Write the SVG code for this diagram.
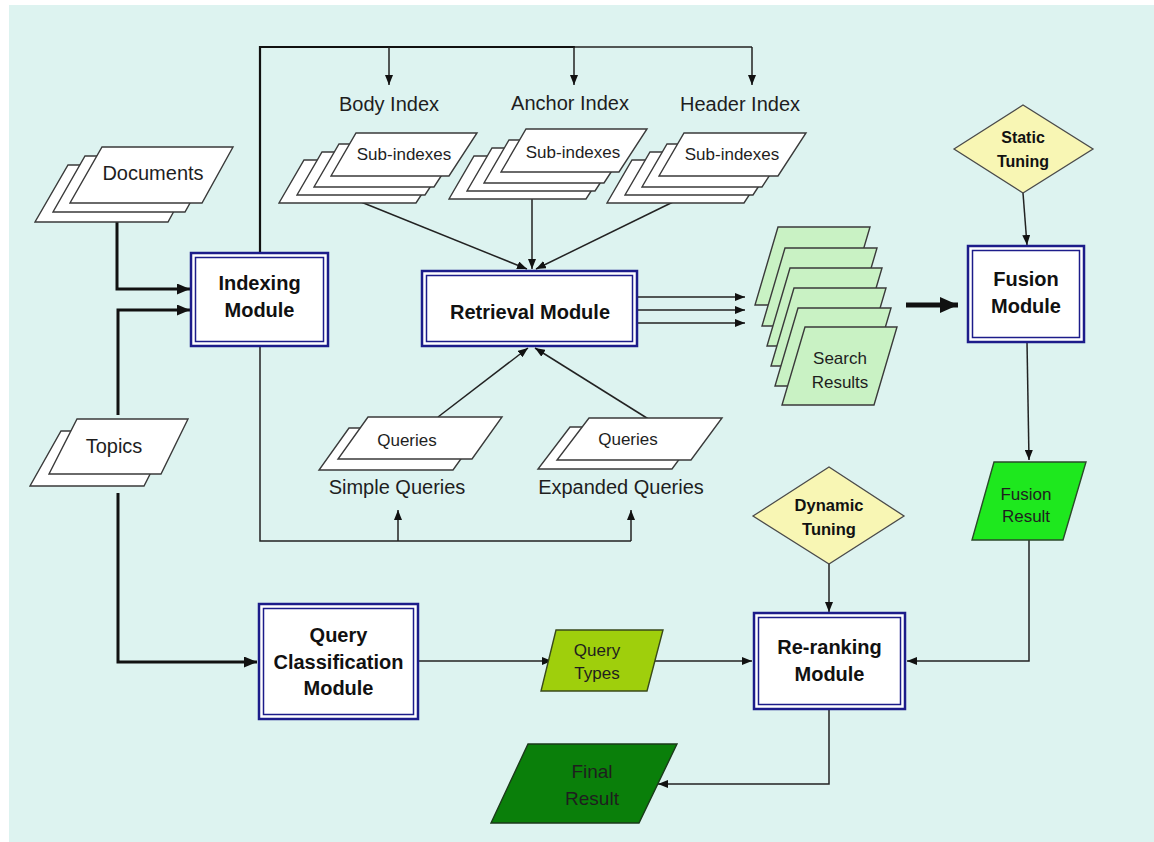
<svg xmlns="http://www.w3.org/2000/svg" width="1154" height="842" viewBox="0 0 1154 842">
<defs>
<style>
.bg{fill:#ddf3f0}
.doc{fill:#ffffff;stroke:#3a3a3a;stroke-width:1.4}
.res{fill:#c9f2c4;stroke:#3a3a3a;stroke-width:1.4}
.dia{fill:#f8f6b4;stroke:#4a4a4a;stroke-width:1.3}
.boxo{fill:#ffffff;stroke:#1c1c8a;stroke-width:2.5}
.boxi{fill:none;stroke:#1c1c8a;stroke-width:1.5}
.ln{fill:none;stroke:#222;stroke-width:1.5}
.lt{fill:none;stroke:#111;stroke-width:3}
.lb{fill:none;stroke:#111;stroke-width:5}
.t{font-family:"Liberation Sans",Arial,sans-serif;fill:#1e1e1e;text-anchor:middle}
.b{font-family:"Liberation Sans",Arial,sans-serif;font-weight:bold;fill:#111;text-anchor:middle}
</style>
<marker id="a" markerUnits="userSpaceOnUse" markerWidth="10" markerHeight="8" refX="10" refY="4" orient="auto"><path d="M0,0 L10,4 L0,8 z" fill="#111"/></marker>
<marker id="at" markerUnits="userSpaceOnUse" markerWidth="13" markerHeight="11" refX="13" refY="5.5" orient="auto"><path d="M0,0 L13,5.5 L0,11 z" fill="#111"/></marker>
<marker id="ab" markerUnits="userSpaceOnUse" markerWidth="18" markerHeight="16" refX="18" refY="8" orient="auto"><path d="M0,0 L18,8 L0,16 z" fill="#111"/></marker>
</defs>
<rect x="0" y="0" width="1154" height="842" fill="#ffffff"/>
<rect class="bg" x="9" y="5" width="1145" height="837"/>

<g id="connectors">
<path class="lt" d="M117,222 V289 H190" marker-end="url(#at)"/>
<path class="lt" d="M118,415 V310 H190" marker-end="url(#at)"/>
<path class="lt" d="M118,493 V662 H257" marker-end="url(#at)"/>
<path class="ln" d="M418,661 H552" marker-end="url(#a)"/>
<path class="ln" d="M655,661 H752" marker-end="url(#a)"/>
<path class="ln" d="M1029,540 V661 H907" marker-end="url(#a)"/>
<path class="ln" d="M829,564 V612" marker-end="url(#a)"/>
<path class="ln" d="M829,709 V784 H658" marker-end="url(#a)"/>
<path class="ln" d="M1027,342 L1029,460" marker-end="url(#a)"/>
<path class="ln" d="M1023,193 L1027,245" marker-end="url(#a)"/>
<path class="lb" d="M906,305 H958" marker-end="url(#ab)"/>
<path class="ln" d="M637,297 H745" marker-end="url(#a)"/>
<path class="ln" d="M637,310 H745" marker-end="url(#a)"/>
<path class="ln" d="M637,323 H745" marker-end="url(#a)"/>
<path fill="none" stroke="#111" stroke-width="2.2" d="M260,253 V47 H575"/>
<path class="ln" d="M574,47 H752"/>
<path class="ln" d="M389,47 V85" marker-end="url(#a)"/>
<path class="ln" d="M574,47 V85" marker-end="url(#a)"/>
<path class="ln" d="M752,47 V85" marker-end="url(#a)"/>
<path class="ln" d="M260,346 V541 H631"/>
<path class="ln" d="M398,541 V510" marker-end="url(#a)"/>
<path class="ln" d="M631,541 V510" marker-end="url(#a)"/>
<path class="ln" d="M361,202 L527,269" marker-end="url(#a)"/>
<path class="ln" d="M532,197 V269" marker-end="url(#a)"/>
<path class="ln" d="M673,202 L536,269" marker-end="url(#a)"/>
<path class="ln" d="M438,417 L528,348" marker-end="url(#a)"/>
<path class="ln" d="M650,420 L535,348" marker-end="url(#a)"/>
</g>

<g id="documents">
<polygon class="doc" points="68,165 199,165 168,222 35,222"/>
<polygon class="doc" points="85,156 216,156 185,212 53,212"/>
<polygon class="doc" points="102,147 233,147 202,203 70,203"/>
<text class="t" x="153" y="180" font-size="20">Documents</text>
</g>

<g id="topics">
<polygon class="doc" points="61,431 172,431 144,486 30,486"/>
<polygon class="doc" points="77,419 188,419 161,474 49,474"/>
<text class="t" x="114" y="453" font-size="20">Topics</text>
</g>

<g id="indexing-module">
<rect class="boxo" x="191" y="253" width="137" height="93"/>
<rect class="boxi" x="195.5" y="257.5" width="128" height="84"/>
<text class="b" x="259.5" y="290" font-size="20">Indexing</text>
<text class="b" x="259.5" y="317" font-size="20">Module</text>
</g>

<g id="body-index">
<text class="t" x="389" y="111" font-size="20">Body Index</text>
<polygon class="doc" points="304,160 444,160 416,203 279,203"/>
<polygon class="doc" points="322,152 453,152 425,195 297,195"/>
<polygon class="doc" points="339,144 462,144 434,187 314,187"/>
<polygon class="doc" points="356,133 477,133 449,176 331,176"/>
<text class="t" x="404" y="160" font-size="17">Sub-indexes</text>
</g>

<g id="anchor-index">
<text class="t" x="570" y="110" font-size="20">Anchor Index</text>
<polygon class="doc" points="474,156 614,156 586,199 449,199"/>
<polygon class="doc" points="492,148 623,148 595,191 467,191"/>
<polygon class="doc" points="509,140 632,140 604,183 484,183"/>
<polygon class="doc" points="526,129 647,129 619,172 501,172"/>
<text class="t" x="573" y="158" font-size="17">Sub-indexes</text>
</g>

<g id="header-index">
<text class="t" x="740" y="111" font-size="20">Header Index</text>
<polygon class="doc" points="632,160 772,160 744,203 607,203"/>
<polygon class="doc" points="650,152 781,152 753,195 625,195"/>
<polygon class="doc" points="667,144 790,144 762,187 642,187"/>
<polygon class="doc" points="684,133 806,133 778,176 659,176"/>
<text class="t" x="732" y="160" font-size="17">Sub-indexes</text>
</g>

<g id="retrieval-module">
<rect class="boxo" x="422" y="271" width="215" height="75"/>
<rect class="boxi" x="426.5" y="275.5" width="206" height="66"/>
<text class="b" x="530" y="319" font-size="20">Retrieval Module</text>
</g>

<g id="simple-queries">
<polygon class="doc" points="349,428 483,428 453,470 319,470"/>
<polygon class="doc" points="368,417 502,417 472,459 338,459"/>
<text class="t" x="407" y="446" font-size="17">Queries</text>
<text class="t" x="397" y="494" font-size="20">Simple Queries</text>
</g>

<g id="expanded-queries">
<polygon class="doc" points="570,427 703,427 672,469 538,469"/>
<polygon class="doc" points="589,418 722,418 691,460 557,460"/>
<text class="t" x="628" y="445" font-size="17">Queries</text>
<text class="t" x="621" y="494" font-size="20">Expanded Queries</text>
</g>

<g id="search-results">
<polygon class="res" points="778,227 870,227 847,305 755,305"/>
<polygon class="res" points="785,248 877,248 854,326 762,326"/>
<polygon class="res" points="790,268 882,268 859,346 767,346"/>
<polygon class="res" points="794,288 886,288 863,366 771,366"/>
<polygon class="res" points="798,308 891,308 868,386 775,386"/>
<polygon class="res" points="805,327 897,327 874,405 782,405"/>
<text class="t" x="840" y="364" font-size="17">Search</text>
<text class="t" x="840" y="388" font-size="17">Results</text>
</g>

<g id="static-tuning">
<polygon class="dia" points="954,149 1023,105 1093,149 1023,193"/>
<text class="b" x="1023" y="143" font-size="16">Static</text>
<text class="b" x="1023" y="167" font-size="16">Tuning</text>
</g>

<g id="fusion-module">
<rect class="boxo" x="968" y="246" width="116" height="96"/>
<rect class="boxi" x="972.5" y="250.5" width="107" height="87"/>
<text class="b" x="1026" y="286" font-size="20">Fusion</text>
<text class="b" x="1026" y="313" font-size="20">Module</text>
</g>

<g id="fusion-result">
<polygon points="994,462 1086,462 1063,540 972,540" fill="#1ee81e" stroke="#2a4a2a" stroke-width="1.4"/>
<text class="t" x="1026" y="500" font-size="17" fill="#163016">Fusion</text>
<text class="t" x="1026" y="522" font-size="17" fill="#163016">Result</text>
</g>

<g id="dynamic-tuning">
<polygon class="dia" points="753,516 829,467 904,516 829,564"/>
<text class="b" x="829" y="511" font-size="16.5">Dynamic</text>
<text class="b" x="829" y="535" font-size="16.5">Tuning</text>
</g>

<g id="query-classification-module">
<rect class="boxo" x="259" y="604" width="159" height="115"/>
<rect class="boxi" x="263.5" y="608.5" width="150" height="106"/>
<text class="b" x="338.5" y="642" font-size="20">Query</text>
<text class="b" x="338.5" y="669" font-size="20">Classification</text>
<text class="b" x="338.5" y="695" font-size="20">Module</text>
</g>

<g id="query-types">
<polygon points="556,630 663,630 647,691 541,691" fill="#9fcf0c" stroke="#3a4a1a" stroke-width="1.4"/>
<text class="t" x="597" y="656" font-size="17" fill="#2a3a10">Query</text>
<text class="t" x="597" y="679" font-size="17" fill="#2a3a10">Types</text>
</g>

<g id="re-ranking-module">
<rect class="boxo" x="754" y="613" width="151" height="96"/>
<rect class="boxi" x="758.5" y="617.5" width="142" height="87"/>
<text class="b" x="829.5" y="654" font-size="20">Re-ranking</text>
<text class="b" x="829.5" y="681" font-size="20">Module</text>
</g>

<g id="final-result">
<polygon points="528,744 677,744 639,823 491,823" fill="#0a7f0a" stroke="#1a3a1a" stroke-width="1.4"/>
<text class="t" x="592" y="778" font-size="19" fill="#0e2e0e">Final</text>
<text class="t" x="592" y="805" font-size="19" fill="#0e2e0e">Result</text>
</g>
</svg>
